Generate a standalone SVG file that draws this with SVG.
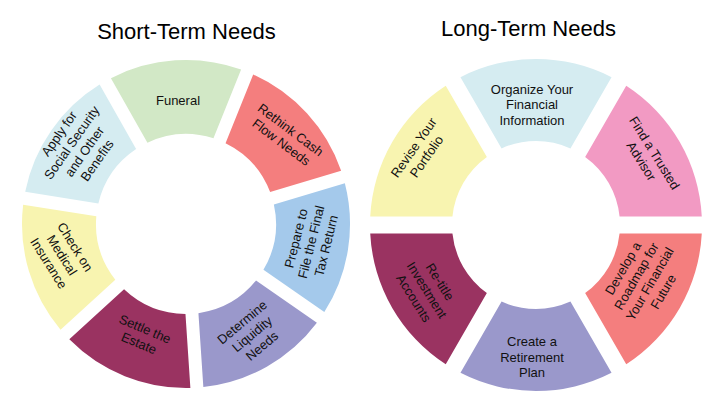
<svg xmlns="http://www.w3.org/2000/svg" width="720" height="411" viewBox="0 0 720 411">
<style>
.title{font-family:"Liberation Sans",Arial,sans-serif;font-size:22px;fill:#000;text-anchor:middle}
.lbl{font-family:"Liberation Sans",Arial,sans-serif;font-size:13px;fill:#111;text-anchor:middle}
.green{fill:#D2E8C6}.salmon{fill:#F47E7E}.blue{fill:#A4C9EB}.lav{fill:#9A98CB}
.maroon{fill:#9A3361}.yellow{fill:#F8F4B0}.cyan{fill:#D5ECF1}.pink{fill:#F29AC3}
</style>
<defs>
<path id="segL" d="M -65.24 -150.47 A 164 164 0 0 1 65.24 -150.47 L 33.09 -83.70 A 90 90 0 0 0 -33.09 -83.70 Z"/>
<path id="segR" d="M -75.53 -147.82 A 166 166 0 0 1 75.53 -147.82 L 34.42 -76.62 A 84 84 0 0 0 -34.42 -76.62 Z"/>
</defs>
<rect width="720" height="411" fill="#fff"/>
<text class="title" x="186.4" y="39">Short-Term Needs</text>
<text class="title" x="528.5" y="36">Long-Term Needs</text>
<g id="connectors"/>
<g id="short-term">
<g id="funeral">
<use href="#segL" class="green" transform="translate(186,224) rotate(-3.8)"/>
<text class="lbl" transform="translate(178,100)"><tspan x="0" y="4.6">Funeral</tspan></text>
</g>
<g id="rethink">
<use href="#segL" class="salmon" transform="translate(186,224) rotate(47.63)"/>
<text class="lbl" transform="translate(286,136) rotate(37)"><tspan x="0" y="-3.15">Rethink Cash</tspan><tspan x="0" y="12.35">Flow Needs</tspan></text>
</g>
<g id="prepare">
<use href="#segL" class="blue" transform="translate(186,224) rotate(99.06)"/>
<text class="lbl" transform="translate(311,242) rotate(-76)"><tspan x="0" y="-10.9">Prepare to</tspan><tspan x="0" y="4.6">File the Final</tspan><tspan x="0" y="20.1">Tax Return</tspan></text>
</g>
<g id="liquidity">
<use href="#segL" class="lav" transform="translate(186,224) rotate(150.49)"/>
<text class="lbl" transform="translate(252,334) rotate(-40)"><tspan x="0" y="-10.9">Determine</tspan><tspan x="0" y="4.6">Liquidity</tspan><tspan x="0" y="20.1">Needs</tspan></text>
</g>
<g id="estate">
<use href="#segL" class="maroon" transform="translate(186,224) rotate(201.91)"/>
<text class="lbl" transform="translate(142,336) rotate(23)"><tspan x="0" y="-3.15">Settle the</tspan><tspan x="0" y="12.35">Estate</tspan></text>
</g>
<g id="medical">
<use href="#segL" class="yellow" transform="translate(186,224) rotate(253.34)"/>
<text class="lbl" transform="translate(62,255) rotate(58)"><tspan x="0" y="-10.9">Check on</tspan><tspan x="0" y="4.6">Medical</tspan><tspan x="0" y="20.1">Insurance</tspan></text>
</g>
<g id="social">
<use href="#segL" class="cyan" transform="translate(186,224) rotate(304.77)"/>
<text class="lbl" transform="translate(78,147) rotate(-55)"><tspan x="0" y="-18.65">Apply for</tspan><tspan x="0" y="-3.15">Social Security</tspan><tspan x="0" y="12.35">and Other</tspan><tspan x="0" y="27.85">Benefits</tspan></text>
</g>
</g>
<g id="long-term">
<g id="organize">
<use href="#segR" class="cyan" transform="translate(536,225)"/>
<text class="lbl" transform="translate(532,104.5)"><tspan x="0" y="-10.9">Organize Your</tspan><tspan x="0" y="4.6">Financial</tspan><tspan x="0" y="20.1">Information</tspan></text>
</g>
<g id="advisor">
<use href="#segR" class="pink" transform="translate(536,225) rotate(60)"/>
<text class="lbl" transform="translate(648,157) rotate(58)"><tspan x="0" y="-3.15">Find a Trusted</tspan><tspan x="0" y="12.35">Advisor</tspan></text>
</g>
<g id="roadmap">
<use href="#segR" class="salmon" transform="translate(536,225) rotate(120)"/>
<text class="lbl" transform="translate(643,280) rotate(-60)"><tspan x="0" y="-18.65">Develop a</tspan><tspan x="0" y="-3.15">Roadmap for</tspan><tspan x="0" y="12.35">Your Financial</tspan><tspan x="0" y="27.85">Future</tspan></text>
</g>
<g id="retirement">
<use href="#segR" class="lav" transform="translate(536,225) rotate(180)"/>
<text class="lbl" transform="translate(532,357)"><tspan x="0" y="-10.9">Create a</tspan><tspan x="0" y="4.6">Retirement</tspan><tspan x="0" y="20.1">Plan</tspan></text>
</g>
<g id="retitle">
<use href="#segR" class="maroon" transform="translate(536,225) rotate(240)"/>
<text class="lbl" transform="translate(427,290) rotate(58)"><tspan x="0" y="-10.9">Re-title</tspan><tspan x="0" y="4.6">Investment</tspan><tspan x="0" y="20.1">Accounts</tspan></text>
</g>
<g id="portfolio">
<use href="#segR" class="yellow" transform="translate(536,225) rotate(300)"/>
<text class="lbl" transform="translate(420,152) rotate(-55)"><tspan x="0" y="-3.15">Revise Your</tspan><tspan x="0" y="12.35">Portfolio</tspan></text>
</g>
</g>
</svg>
